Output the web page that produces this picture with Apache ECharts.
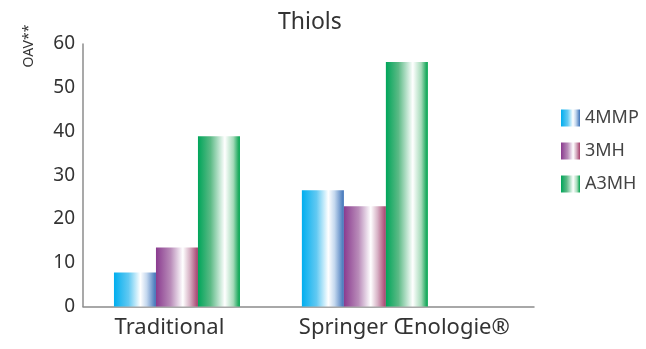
<!DOCTYPE html>
<html>
<head>
<meta charset="utf-8">
<script src="https://cdn.jsdelivr.net/npm/echarts@6/dist/echarts.min.js"></script>
<style>
  html, body { margin: 0; padding: 0; background: #fff; }
  #chart { width: 646px; height: 349px; }
</style>
</head>
<body>
<div id="chart"></div>
<script>
const categories = ['Traditional', 'Springer Œnologie®'];
const seriesNames = ['4MMP', '3MH', 'A3MH'];
const mmp4 = [7.8, 26.6];
const mh3 = [13.5, 22.9];
const a3mh = [38.9, 55.9];
const yTicks = [0, 10, 20, 30, 40, 50, 60];

// group centres on the x scale, and where the labels sit (slightly off centre in the original)
const groupPos = [0.5, 1.5];
const labelPos = [0.46, 1.71];

const FONT = 'Noto Sans';

function grad(stops) {
    return new echarts.graphic.LinearGradient(0, 0, 1, 0,
        stops.map(s => ({offset: s[0], color: s[1]})));
}

const colors = [
    grad([[0, '#00aeef'], [0.35, '#62c9f2'], [0.63, '#ffffff'], [0.78, '#c3d7ee'], [1, '#3d72b8']]),
    grad([[0, '#8a3b8f'], [0.35, '#b98cb9'], [0.64, '#ffffff'], [0.8, '#d8b3c6'], [1, '#a63f6c']]),
    grad([[0, '#00a55a'], [0.3, '#5cba86'], [0.64, '#ffffff'], [0.84, '#a6dbba'], [0.95, '#2fb06a'], [1, '#00a651']])
];

const values = [mmp4, mh3, a3mh];

const chart = echarts.init(document.getElementById('chart'));

const option = {
    animation: false,
    textStyle: {fontFamily: FONT},
    title: {
        text: 'Thiols',
        left: 273,
        top: 6,
        textStyle: {fontFamily: FONT, fontSize: 23, fontWeight: 'normal', color: '#333'}
    },
    legend: {
        orient: 'vertical',
        left: 556,
        top: 104,
        itemWidth: 19,
        itemHeight: 17,
        itemGap: 15,
        icon: 'rect',
        textStyle: {fontFamily: FONT, fontSize: 18, color: '#444'},
        data: seriesNames
    },
    grid: {left: 83, right: 112, top: 44, bottom: 42.5, containLabel: false},
    xAxis: {
        type: 'value',
        min: 0,
        max: 2.4,
        splitLine: {show: false},
        axisTick: {show: false},
        axisLine: {show: true, lineStyle: {color: '#8c8c8c', width: 1.5}},
        axisLabel: {
            customValues: labelPos,
            formatter: v => {
                const i = labelPos.indexOf(v);
                return i >= 0 ? categories[i] : '';
            },
            fontFamily: FONT,
            fontSize: 22,
            color: '#333',
            margin: 10
        }
    },
    yAxis: {
        type: 'value',
        min: 0,
        max: 60,
        interval: 10,
        splitLine: {show: false},
        axisTick: {show: false},
        axisLine: {show: true, lineStyle: {color: '#8c8c8c', width: 1.5}},
        axisLabel: {
            customValues: yTicks,
            fontFamily: FONT,
            fontSize: 19,
            color: '#333',
            margin: 8
        }
    },
    graphic: [{
        type: 'text',
        x: 29,
        y: 46,
        rotation: Math.PI / 2,
        style: {
            text: 'OAV**',
            fontFamily: FONT,
            fontSize: 14,
            fill: '#333',
            align: 'center',
            verticalAlign: 'middle'
        }
    }],
    series: seriesNames.map((name, i) => ({
        name: name,
        type: 'bar',
        barWidth: 42,
        barGap: '0%',
        itemStyle: {color: colors[i]},
        data: values[i].map((v, j) => [groupPos[j], v])
    }))
};

chart.setOption(option);
</script>
</body>
</html>
